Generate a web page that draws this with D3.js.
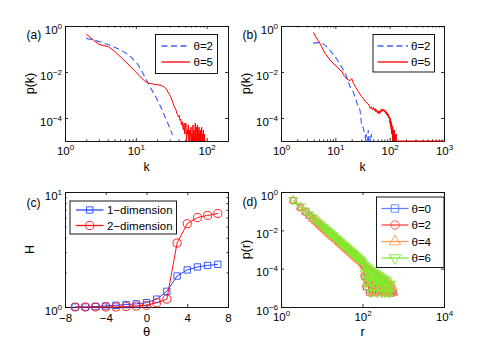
<!DOCTYPE html>
<html>
<head>
<meta charset="utf-8">
<script src="https://cdn.jsdelivr.net/npm/d3@7"></script>
<style>
  body { margin: 0; background: #fff; }
  svg { display: block; }
</style>
</head>
<body>
<script>
// ---- data ----

// (a) degree distribution, theta = 2 (dashed) and theta = 5
const kA2 = [2.0, 2.9, 4.5, 6.1, 8, 10.4, 12.3, 13.7, 16.2, 19, 22.4, 26.4, 31, 33];
const pA2 = [0.29, 0.22, 0.14, 0.09, 0.055, 0.024, 0.0103, 0.0053, 0.002, 8.5e-4, 3.1e-4, 9.7e-5, 3e-5, 1.8e-5];
const kA5 = [2, 2.5, 3, 3.5, 4.1, 5, 6.4, 8, 9.9, 11.5, 13.7, 15, 16.5, 18.5, 20.5, 23, 25, 27, 29, 31, 33, 35, 37, 38,
  39, 40, 41, 42, 43, 44, 45, 46, 47, 48, 49, 50, 51, 52, 53, 54, 55, 56, 57, 58, 59, 60, 61, 62, 63, 64, 65, 66, 67,
  68, 69, 70, 71, 72, 73, 74, 75, 76, 77, 78, 79, 80, 81, 82, 83, 84, 85, 86, 87, 88, 89, 90, 91, 92, 93, 94, 95, 96];
const pA5 = [0.45, 0.25, 0.16, 0.14, 0.126, 0.08, 0.039, 0.02, 0.0103, 0.0062, 0.0038, 0.0033, 0.0031, 0.0029, 0.0028,
  0.0026, 0.0023, 0.0018, 0.0012, 8.5e-4, 5e-4, 3e-4, 2.2e-4, 1.5e-4,
  14e-5, 11e-5, 13e-5, 8e-5, 9e-5, 5e-5, 7e-5, 4e-5, 3e-5, 6e-5, 2e-5, 4e-5, 6e-5, 1e-5, 3e-5, 2e-5, 5e-5, 1e-5, 3e-5,
  1e-5, 2e-5, 4e-5, 1e-5, 2e-5, 1e-5, 5e-5, 1e-5, 3e-5, 1e-5, 2e-5, 6e-5, 1e-5, 4e-5, 1e-5, 2e-5, 5e-5, 1e-5, 3e-5,
  1e-5, 4e-5, 1e-5, 2e-5, 1e-5, 3e-5, 1e-5, 1e-5, 4e-5, 1e-5, 2e-5, 1e-5, 1e-5, 3e-5, 1e-5, 1e-5, 2e-5, 1e-5, 1e-5, 1e-5];

// (b)
const kB2 = [3.9, 5, 6, 7, 8.6, 10, 11.4, 13, 15, 17, 18.6, 21, 23, 25, 26.6, 28.5, 29.5, 30.6, 32.5, 34.3, 35.4, 36,
  37, 38, 39, 40.4, 41, 42, 43.4, 44, 46, 47];
const pB2 = [0.18, 0.19, 0.17, 0.125, 0.07, 0.045, 0.028, 0.017, 0.0095, 0.0045, 0.0023, 0.0015, 8.5e-4, 4.5e-4, 3e-4,
  2.2e-4, 1e-4, 4.2e-5, 4e-5, 2.1e-5, 2.1e-5, 1e-5, 2e-5, 1e-5, 1e-5, 3e-5, 1e-5, 1e-5, 1.6e-5, 1e-5, 2e-5, 1e-5];
const kB5 = [3.94, 4.5, 5.2, 6.45, 8, 9.9, 11, 12.2, 13.1, 14.1, 15, 16.2, 17.5, 18.6, 20, 21.5, 24, 26.6, 30, 32.6,
  36, 40, 42, 44, 46, 48, 50, 52, 54, 56, 58, 60, 62, 64, 66, 68, 70, 72, 74, 76, 78, 80, 82, 84, 86, 88, 90, 92, 94,
  96, 98, 100, 101, 102, 103, 104, 105, 106, 107, 108, 109, 110, 111, 112, 113, 114, 115, 116, 117, 118, 119, 120,
  121, 122, 123, 125, 126, 128, 129, 132, 133, 1000];
const pB5 = [0.53, 0.3, 0.18, 0.065, 0.033, 0.02, 0.016, 0.012, 0.011, 0.0075, 0.0063, 0.005, 0.0045, 0.0042, 0.0052,
  0.0032, 0.0021, 0.0014, 9e-4, 7.2e-4, 5e-4, 4.2e-4, 3.4e-4, 2.6e-4, 3.1e-4, 2.3e-4, 2.8e-4, 2.1e-4, 2.6e-4, 1.8e-4,
  2.3e-4, 1.6e-4, 2.0e-4, 1.5e-4, 2.1e-4, 1.7e-4, 2.4e-4, 1.9e-4, 2.5e-4, 2.0e-4, 2.3e-4, 1.8e-4, 2.2e-4, 1.6e-4,
  1.9e-4, 1.4e-4, 1.7e-4, 1.2e-4, 1.5e-4, 1.0e-4, 1.2e-4, 9e-5, 6e-5, 1.0e-4, 5e-5, 8e-5, 4e-5, 7e-5, 3e-5, 6e-5,
  2e-5, 5e-5, 2e-5, 4e-5, 1e-5, 4e-5, 2e-5, 3e-5, 1e-5, 3e-5, 1e-5, 2e-5, 1e-5, 3e-5, 1e-5, 2e-5, 1e-5, 2e-5, 1e-5,
  2e-5, 1e-5, 1e-5];

// (c) entropy vs theta
const thetaC = [-7, -6, -5, -4, -3, -2, -1, 0, 1, 2, 3, 4, 5, 6, 7];
const H1 = [1.0, 1.0, 1.01, 1.02, 1.035, 1.05, 1.065, 1.09, 1.17, 1.37, 1.86, 2.1, 2.23, 2.3, 2.35];
const H2 = [1.0, 1.0, 1.0, 1.0, 1.0, 1.01, 1.02, 1.035, 1.09, 1.17, 3.6, 5.3, 6.0, 6.26, 6.5];

// (d) p(r)
const rMain = [2, 3, 4, 5, 6, 7, 8, 9, 10, 11, 12, 13, 14, 15, 16, 17, 18, 19, 20, 22, 24, 26, 28, 30, 32, 34, 36, 38,
  40, 43, 46, 49, 52, 55, 58, 62, 66, 70, 74, 78, 83, 88, 93, 98];
const rTail = [104, 110, 116, 122, 128, 134, 140, 147, 154, 161, 168, 176, 184, 192, 200, 210, 220, 230, 240, 252, 264,
  276, 290, 304, 318, 332, 348, 364, 380, 398, 416, 436, 456, 478, 500, 525, 550, 580];
const pTh0 = [0.36, 0.155, 0.09, 0.058, 0.041, 0.031, 0.0235, 0.0185, 0.0151, 0.0126, 0.0108, 0.0092, 0.008, 0.007,
  0.0062, 0.0055, 0.005, 0.0045, 0.0041, 0.0034, 0.0029, 0.0025, 0.0022, 0.0019, 0.0017, 0.0015, 0.00134, 0.0012,
  0.0011, 0.00097, 0.00084, 0.00076, 0.00067, 0.0006, 0.00055, 0.00049, 0.00042, 0.00038, 0.00034, 0.00031, 0.00028,
  0.00025, 0.00023, 0.0002,
  1.6e-4, 3.8e-5, 1.2e-4, 1.1e-5, 9.5e-5, 2.2e-5, 8e-5, 5.5e-6, 6.5e-5, 1.6e-5, 5.5e-5, 5.5e-6, 4.9e-5, 1.1e-5, 4.4e-5,
  5.5e-6, 3.8e-5, 1.6e-5, 3.3e-5, 5.5e-6, 2.7e-5, 1.1e-5, 2.7e-5, 5.5e-6, 2.2e-5, 5.5e-6, 1.6e-5, 1.1e-5, 1.6e-5,
  5.5e-6, 1.1e-5, 5.5e-6, 1.1e-5, 5.5e-6, 5.5e-6, 5.5e-6, 5.5e-6, 5.5e-6];
const pTh2 = [0.36, 0.15, 0.088, 0.056, 0.039, 0.029, 0.022, 0.0175, 0.0143, 0.0118, 0.01, 0.0086, 0.0075, 0.0066,
  0.0058, 0.0052, 0.0046, 0.0042, 0.0038, 0.0032, 0.0027, 0.0023, 0.002, 0.0018, 0.0016, 0.0014, 0.00125, 0.00113,
  0.00102, 0.0009, 0.0008, 0.00071, 0.00063, 0.00057, 0.00051, 0.00045, 0.0004, 0.00036, 0.00032, 0.00029, 0.00026,
  0.00023, 0.00021, 0.00019,
  1.5e-4, 4.4e-5, 1.2e-4, 1.1e-5, 1.0e-4, 2.7e-5, 8.5e-5, 5.5e-6, 7e-5, 1.6e-5, 6e-5, 5.5e-6, 5e-5, 2.2e-5, 4.4e-5,
  5.5e-6, 3.8e-5, 1.1e-5, 3.3e-5, 5.5e-6, 3.3e-5, 1.6e-5, 2.7e-5, 5.5e-6, 2.2e-5, 1.1e-5, 2.2e-5, 5.5e-6, 1.6e-5,
  5.5e-6, 1.6e-5, 1.1e-5, 5.5e-6, 1.1e-5, 5.5e-6, 1.1e-5, 5.5e-6, 5.5e-6];
const pTh4 = [0.37, 0.16, 0.094, 0.06, 0.042, 0.032, 0.0245, 0.0193, 0.0158, 0.013, 0.0112, 0.0096, 0.0083, 0.0073,
  0.0065, 0.0058, 0.0052, 0.0047, 0.0043, 0.0036, 0.0031, 0.0026, 0.0023, 0.002, 0.00176, 0.00158, 0.0014, 0.00127,
  0.00114, 0.001, 0.00088, 0.00079, 0.0007, 0.00063, 0.00057, 0.00051, 0.00044, 0.0004, 0.00036, 0.00032, 0.00029,
  0.00026, 0.00024, 0.00021,
  1.7e-4, 5e-5, 1.3e-4, 1.6e-5, 1.1e-4, 3.3e-5, 9e-5, 1.1e-5, 7.5e-5, 5.5e-6, 6.5e-5, 2.2e-5, 5.5e-5, 5.5e-6, 5e-5,
  1.6e-5, 4.4e-5, 5.5e-6, 3.8e-5, 1.1e-5, 3.3e-5, 5.5e-6, 3.3e-5, 1.6e-5, 2.7e-5, 5.5e-6, 2.2e-5, 1.1e-5, 2.2e-5,
  5.5e-6, 1.6e-5, 5.5e-6, 1.6e-5, 1.1e-5, 1.1e-5, 5.5e-6, 1.1e-5, 5.5e-6];
const pTh6 = [0.38, 0.18, 0.105, 0.068, 0.048, 0.036, 0.028, 0.022, 0.018, 0.015, 0.0128, 0.011, 0.0095, 0.0084,
  0.0074, 0.0066, 0.0059, 0.0054, 0.0049, 0.0041, 0.0035, 0.003, 0.0026, 0.0023, 0.002, 0.0018, 0.0016, 0.00145,
  0.0013, 0.00115, 0.001, 0.0009, 0.0008, 0.00072, 0.00065, 0.00058, 0.0005, 0.00045, 0.00041, 0.00037, 0.00033,
  0.0003, 0.00027, 0.00024,
  2.0e-4, 6e-5, 1.6e-4, 2.2e-5, 1.3e-4, 1.1e-5, 1.1e-4, 3.3e-5, 9e-5, 5.5e-6, 8e-5, 2.2e-5, 7e-5, 1.1e-5, 6e-5,
  2.7e-5, 5.5e-5, 5.5e-6, 4.9e-5, 1.6e-5, 4.4e-5, 1.1e-5, 3.8e-5, 5.5e-6, 3.3e-5, 1.6e-5, 2.7e-5, 5.5e-6, 2.7e-5,
  1.1e-5, 2.2e-5, 5.5e-6, 1.6e-5, 5.5e-6, 1.6e-5];

const legendAB = ['θ=2', 'θ=5'];
const legendC = ['1−dimension', '2−dimension'];
const legendD = ['θ=0', 'θ=2', 'θ=4', 'θ=6'];

// ---- drawing ----
const font = '"Liberation Sans", Arial, Helvetica, sans-serif';
const svg = d3.select('body').append('svg')
    .attr('width', 491).attr('height', 352)
    .style('font-family', font);
const defs = svg.append('defs');

const box = {
    a: { x0: 65, x1: 228, y0: 26, y1: 141 },
    b: { x0: 281, x1: 444, y0: 26, y1: 141 },
    c: { x0: 65, x1: 228, y0: 192, y1: 307 },
    d: { x0: 281, x1: 444, y0: 192, y1: 307 }
};

const xa = d3.scaleLog().domain([1, 200]).range([box.a.x0, box.a.x1]);
const ya = d3.scaleLog().domain([1e-5, 1]).range([box.a.y1, box.a.y0]);
const xb = d3.scaleLog().domain([1, 1000]).range([box.b.x0, box.b.x1]);
const yb = d3.scaleLog().domain([1e-5, 1]).range([box.b.y1, box.b.y0]);
const xc = d3.scaleLinear().domain([-8, 8]).range([box.c.x0, box.c.x1]);
const yc = d3.scaleLog().domain([1, 10]).range([box.c.y1, box.c.y0]);
const xd = d3.scaleLog().domain([1, 1e4]).range([box.d.x0, box.d.x1]);
const yd = d3.scaleLog().domain([1e-6, 1]).range([box.d.y1, box.d.y0]);

function clipFor(name, b) {
    defs.append('clipPath').attr('id', 'clip-' + name)
        .append('rect')
        .attr('x', b.x0).attr('y', b.y0 - 1)
        .attr('width', b.x1 - b.x0 + 1).attr('height', b.y1 - b.y0 + 2);
    return svg.append('g').attr('clip-path', `url(#clip-${name})`);
}

// "10" with a raised exponent
function supLabels(sel) {
    sel.selectAll('.tick text').each(function (d) {
        const e = Math.round(Math.log10(d));
        const t = d3.select(this).text(null);
        t.append('tspan').text('10');
        t.append('tspan').attr('dy', -5).attr('font-size', 8).text(e < 0 ? '−' + (-e) : String(e));
    });
}

const minus = d => (d < 0 ? '−' + (-d) : String(d));

// axes are drawn under the data, as MATLAB does by default
function drawAxes(b, x, y, cfg) {
    const g = svg.append('g');
    g.append('rect')
        .attr('x', b.x0 + 0.5).attr('y', b.y0 + 0.5)
        .attr('width', b.x1 - b.x0).attr('height', b.y1 - b.y0)
        .attr('fill', 'none').attr('stroke', '#000').attr('stroke-width', 0.9);
    const bx = g.append('g').attr('transform', `translate(0,${b.y1})`)
        .call(d3.axisBottom(x).tickValues(cfg.xTicks).tickSize(-3).tickFormat(cfg.xLog ? d => d : minus));
    bx.selectAll('text').attr('y', cfg.xLog ? 13.5 : 14.7).attr('dy', null);
    if (cfg.xLog) supLabels(bx);
    g.append('g').attr('transform', `translate(0,${b.y0})`)
        .call(d3.axisTop(x).tickValues(cfg.xTicks).tickSize(-3).tickFormat(''));
    if (cfg.xMinor) {
        g.append('g').attr('transform', `translate(0,${b.y1})`)
            .call(d3.axisBottom(x).tickValues(cfg.xMinor).tickSize(-1.6).tickFormat(''));
        g.append('g').attr('transform', `translate(0,${b.y0})`)
            .call(d3.axisTop(x).tickValues(cfg.xMinor).tickSize(-1.6).tickFormat(''));
    }
    const ly = g.append('g').attr('transform', `translate(${b.x0},0)`)
        .call(d3.axisLeft(y).tickValues(cfg.yTicks).tickSize(-3).tickFormat(d => d));
    ly.selectAll('text').attr('x', -3).attr('dy', '0.62em');
    supLabels(ly);
    g.append('g').attr('transform', `translate(${b.x1},0)`)
        .call(d3.axisRight(y).tickValues(cfg.yTicks).tickSize(-3).tickFormat(''));
    if (cfg.yMinor) {
        g.append('g').attr('transform', `translate(${b.x0},0)`)
            .call(d3.axisLeft(y).tickValues(cfg.yMinor).tickSize(-1.6).tickFormat(''));
        g.append('g').attr('transform', `translate(${b.x1},0)`)
            .call(d3.axisRight(y).tickValues(cfg.yMinor).tickSize(-1.6).tickFormat(''));
    }
    g.selectAll('.domain').remove();
    g.selectAll('.tick line').attr('stroke', '#000').attr('stroke-width', 0.8);
    g.selectAll('text').attr('font-size', 11.5).attr('font-family', font).attr('fill', '#000');
}

function label(x, y, txt, opts = {}) {
    const t = svg.append('text')
        .attr('x', x).attr('y', y)
        .attr('font-size', opts.size || 12.5)
        .attr('text-anchor', opts.anchor || 'middle')
        .attr('fill', '#000')
        .text(txt);
    if (opts.rotate) t.attr('transform', `rotate(-90,${x},${y})`);
    return t;
}

function symbolPath(type, size) {
    const sym = {
        square: d3.symbolSquare, circle: d3.symbolCircle,
        up: d3.symbolTriangle, down: d3.symbolTriangle
    }[type];
    return d3.symbol().type(sym).size(size)();
}

function markers(g, pts, type, size, color) {
    g.selectAll(null).data(pts).enter().append('path')
        .attr('d', symbolPath(type, size))
        .attr('transform', d => `translate(${d[0]},${d[1]})` + (type === 'down' ? ' rotate(180)' : ''))
        .attr('fill', 'none').attr('stroke', color).attr('stroke-width', 0.9);
}

function legendBox(b, rows, lx0, lx1, tx, items) {
    const g = svg.append('g');
    g.append('rect')
        .attr('x', b[0] + 0.5).attr('y', b[1] + 0.5)
        .attr('width', b[2] - b[0]).attr('height', b[3] - b[1])
        .attr('fill', '#fff').attr('stroke', '#000').attr('stroke-width', 0.9);
    items.forEach((it, i) => {
        const yy = rows[i];
        g.append('line').attr('x1', lx0).attr('x2', lx1).attr('y1', yy).attr('y2', yy)
            .attr('stroke', it.color).attr('stroke-width', 1.3)
            .attr('stroke-dasharray', it.dash || null);
        if (it.marker) markers(g, [[(lx0 + lx1) / 2, yy]], it.marker, it.size, it.color);
        g.append('text').attr('x', tx).attr('y', yy + 4)
            .attr('font-size', 11.5).attr('fill', '#000').text(it.label);
    });
}

const blueDash = '#3c5cff', redLine = '#ff0000';

// ---------- (a) ----------
{
    drawAxes(box.a, xa, ya, {
        xLog: true, xTicks: [1, 10, 100],
        xMinor: [2, 3, 4, 5, 6, 7, 8, 9, 20, 30, 40, 50, 60, 70, 80, 90],
        yTicks: [1, 1e-2, 1e-4]
    });
    const g = clipFor('a', box.a);
    const line = d3.line().x(d => xa(d[0])).y(d => ya(d[1]));
    g.append('path').datum(d3.zip(kA2, pA2)).attr('d', line)
        .attr('fill', 'none').attr('stroke', blueDash).attr('stroke-width', 1.1).attr('stroke-dasharray', '6,3.5');
    g.append('path').datum(d3.zip(kA5, pA5)).attr('d', line)
        .attr('fill', 'none').attr('stroke', redLine).attr('stroke-width', 1);
    legendBox([155, 34, 217, 73], [46, 62], 161.5, 190, 193.5, [
        { label: legendAB[0], color: blueDash, dash: '6,3.5' },
        { label: legendAB[1], color: redLine }
    ]);
    label(146.5, 171, 'k');
    label(34, 83.5, 'p(k)', { rotate: true });
    label(26.5, 39, '(a)', { anchor: 'start', size: 12 });
}

// ---------- (b) ----------
{
    drawAxes(box.b, xb, yb, {
        xLog: true, xTicks: [1, 10, 100, 1000],
        xMinor: [2, 3, 4, 5, 6, 7, 8, 9, 20, 30, 40, 50, 60, 70, 80, 90, 200, 300, 400, 500, 600, 700, 800, 900],
        yTicks: [1, 1e-2, 1e-4]
    });
    const g = clipFor('b', box.b);
    const line = d3.line().x(d => xb(d[0])).y(d => yb(d[1]));
    g.append('path').datum(d3.zip(kB2, pB2)).attr('d', line)
        .attr('fill', 'none').attr('stroke', blueDash).attr('stroke-width', 1.1).attr('stroke-dasharray', '6,3.5');
    g.append('path').datum(d3.zip(kB5, pB5)).attr('d', line)
        .attr('fill', 'none').attr('stroke', redLine).attr('stroke-width', 1);
    legendBox([372.5, 34, 434, 71.5], [46, 62], 377.5, 408, 411, [
        { label: legendAB[0], color: blueDash, dash: '6,3.5' },
        { label: legendAB[1], color: redLine }
    ]);
    label(362.5, 171, 'k');
    label(250, 83.5, 'p(k)', { rotate: true });
    label(242.5, 39, '(b)', { anchor: 'start', size: 12 });
}

// ---------- (c) ----------
{
    drawAxes(box.c, xc, yc, {
        xLog: false, xTicks: [-8, -4, 0, 4, 8],
        yTicks: [1, 10], yMinor: [2, 3, 4, 5, 6, 7, 8, 9]
    });
    const g = svg.append('g');
    const line = d3.line().x(d => xc(d[0])).y(d => yc(d[1]));
    const s1 = d3.zip(thetaC, H1), s2 = d3.zip(thetaC, H2);
    const cBlue = '#2747ff', cRed = '#ff1010';
    g.append('path').datum(s1).attr('d', line).attr('fill', 'none').attr('stroke', cBlue).attr('stroke-width', 1);
    markers(g, s1.map(d => [xc(d[0]), yc(d[1])]), 'square', 40, cBlue);
    g.append('path').datum(s2).attr('d', line).attr('fill', 'none').attr('stroke', cRed).attr('stroke-width', 1);
    markers(g, s2.map(d => [xc(d[0]), yc(d[1])]), 'circle', 52, cRed);
    legendBox([69.5, 200.5, 176, 233.5], [210, 225.5], 76, 103.5, 107, [
        { label: legendC[0], color: cBlue, marker: 'square', size: 40 },
        { label: legendC[1], color: cRed, marker: 'circle', size: 52 }
    ]);
    label(146.5, 336, 'θ', { size: 13 });
    label(34, 249.5, 'H', { rotate: true });
    label(26.5, 207, '(c)', { anchor: 'start', size: 12 });
}

// ---------- (d) ----------
{
    drawAxes(box.d, xd, yd, {
        xLog: true, xTicks: [1, 100, 1e4],
        yTicks: [1, 1e-2, 1e-4, 1e-6]
    });
    const g = clipFor('d', box.d);
    const line = d3.line().x(d => xd(d[0])).y(d => yd(d[1]));
    const rAll = rMain.concat(rTail);
    const series = [
        { p: pTh0, color: '#5f7fff', m: 'square', size: 30 },
        { p: pTh2, color: '#ff4545', m: 'circle', size: 34 },
        { p: pTh4, color: '#ff9a55', m: 'up', size: 34 },
        { p: pTh6, color: '#7ded2c', m: 'down', size: 34 }
    ];
    series.forEach(s => {
        const pts = d3.zip(rAll, s.p);
        g.append('path').datum(pts).attr('d', line)
            .attr('fill', 'none').attr('stroke', s.color).attr('stroke-width', 0.9);
        markers(g, pts.map(d => [xd(d[0]), yd(d[1])]), s.m, s.size, s.color);
    });
    legendBox([376, 196.5, 443.5, 267], [208.5, 225, 241.5, 258], 381.5, 408.5, 411.5,
        series.map((s, i) => ({ label: legendD[i], color: s.color, marker: s.m, size: 55 })));
    label(362.5, 335.5, 'r');
    label(250, 249.5, 'p(r)', { rotate: true });
    label(242.5, 206, '(d)', { anchor: 'start', size: 12 });
}
</script>
</body>
</html>
